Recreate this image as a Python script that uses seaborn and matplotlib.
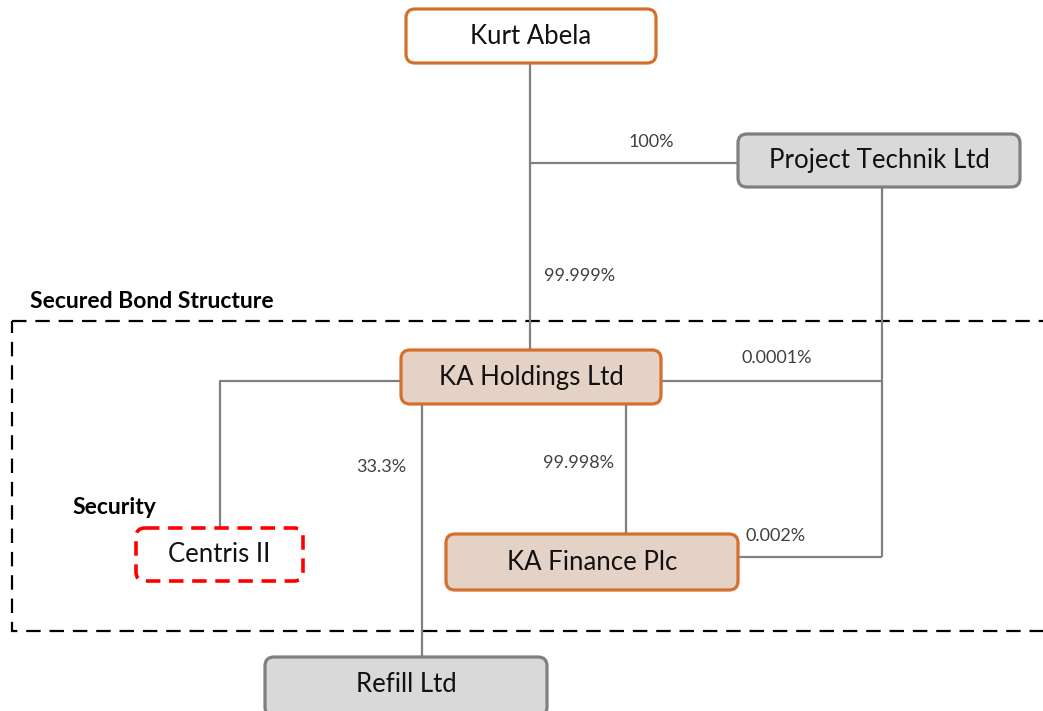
import numpy as np
import pandas as pd
import seaborn as sns
from matplotlib import pyplot as plt
from matplotlib.patches import FancyBboxPatch, Rectangle

sns.set_theme(style="white")
plt.rcParams['font.family'] = ['Lato', 'DejaVu Sans']

# entities in the group chart
entities = ['Kurt Abela', 'Project Technik Ltd', 'KA Holdings Ltd',
            'KA Finance Plc', 'Centris II', 'Refill Ltd']
kinds = ['owner', 'other', 'issuer', 'issuer', 'security', 'other']

# ownership stakes (label text)
stakes = ['100%', '99.999%', '0.0001%', '33.3%', '99.998%', '0.002%']

# layout (pixel coords: left, top, right, bottom)
boxes = {
    'Kurt Abela': (406, 9, 656, 63),
    'Project Technik Ltd': (738, 134, 1020, 187),
    'KA Holdings Ltd': (401, 350, 661, 404),
    'KA Finance Plc': (446, 534, 738, 590),
    'Centris II': (136, 528, 303, 581),
    'Refill Ltd': (265, 657, 547, 716),
}
styles = {
    'owner': dict(fc='white', ec='#D5702C', ls='-', lw=2.3),
    'issuer': dict(fc='#E5D2C7', ec='#D5702C', ls='-', lw=2.3),
    'other': dict(fc='#D9D9D9', ec='#7F7F7F', ls='-', lw=2.3),
    'security': dict(fc='white', ec='#FF0000', ls=(0, (4, 2.4)), lw=2.6),
}
stake_pos = [(651, 142), (580, 276), (777, 358), (381, 467), (579, 463), (776, 536)]

connectors = [
    [(530, 63), (530, 350)],
    [(530, 163), (738, 163)],
    [(882, 187), (882, 557)],
    [(661, 381), (882, 381)],
    [(738, 557), (882, 557)],
    [(626, 404), (626, 534)],
    [(422, 404), (422, 657)],
    [(401, 381), (220, 381), (220, 528)],
]

fig = plt.figure(figsize=(10.43, 7.11), dpi=100)
ax = fig.add_axes([0, 0, 1, 1])
ax.set_xlim(0, 1043)
ax.set_ylim(711, 0)
ax.axis('off')

# secured bond structure frame
ax.add_patch(Rectangle((12, 321), 1100, 310, fill=False, ec='black', lw=1.6,
                       ls=(0, (6.5, 4)), zorder=1))
ax.text(30, 302, 'Secured Bond Structure', fontsize=16.5, fontweight='bold',
        ha='left', va='center', color='black')
ax.text(72, 507, 'Security', fontsize=16.5, fontweight='bold',
        ha='left', va='center', color='black')

for seg in connectors:
    pts = pd.DataFrame(seg, columns=['x', 'y'])
    ax.plot(pts['x'], pts['y'], color='#808080', lw=1.6, zorder=2,
            solid_capstyle='butt')

for name, kind in zip(entities, kinds):
    l, t, r, b = boxes[name]
    st = styles[kind]
    ax.add_patch(FancyBboxPatch((l, t), r - l, b - t,
                                boxstyle='round,pad=0,rounding_size=9',
                                fc=st['fc'], ec=st['ec'], ls=st['ls'],
                                lw=st['lw'], zorder=3))
    cy = (t + b) / 2 if name != 'Refill Ltd' else 684
    ax.text((l + r) / 2, cy, name, fontsize=18.5, ha='center', va='center',
            color='#111111', zorder=4)

for s, (x, y) in zip(stakes, stake_pos):
    ax.text(x, y, s, fontsize=13, ha='center', va='center', color='#404040',
            zorder=4)

fig.savefig('out.png', dpi=100)
